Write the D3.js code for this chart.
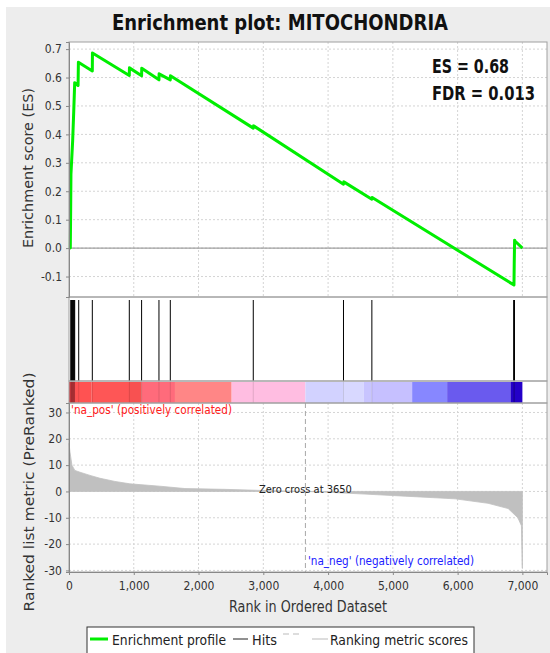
<!DOCTYPE html>
<html>
<head>
<meta charset="utf-8">
<script src="https://cdn.jsdelivr.net/npm/d3@7"></script>
<style>
  body { margin: 0; background: #fff; }
  text { font-family: "DejaVu Sans Condensed", "DejaVu Sans", sans-serif; }
</style>
</head>
<body>
<svg id="svg1" width="550" height="653"></svg>
<script>
// enrichment score curve, vertices
var esRank = [0, 20, 26, 30, 57, 73, 88, 140, 145, 360, 362, 931, 933, 1121, 1123, 1389, 1391, 1564, 1566, 2845, 2850, 4238, 4243, 4676, 4681, 6870, 6874, 6880, 6885, 7000];
var esValue = [0, 0, 0.14, 0.26, 0.38, 0.48, 0.582, 0.572, 0.654, 0.623, 0.686, 0.607, 0.634, 0.606, 0.633, 0.592, 0.613, 0.592, 0.606, 0.422, 0.43, 0.225, 0.233, 0.172, 0.178, -0.13, -0.055, 0.028, 0.025, 0.0];

// gene set members (hits)
var hitRanks = [28, 35, 42, 50, 57, 65, 73, 80, 88, 150, 360, 931, 1121, 1389, 1564, 2845, 4238, 4676, 6866, 6872, 6878];

// ranked list metric
var metricRank = [0, 15, 45, 90, 170, 325, 480, 710, 940, 1400, 1790, 2400, 2950, 3650, 4000, 4570, 5190, 5960, 6470, 6780, 6930, 6985, 6998, 7000];
var metricValue = [18.3, 15, 10, 8, 7.3, 6.1, 5, 3.8, 2.9, 2.0, 1.1, 0.8, 0.4, 0, -0.3, -1, -1.8, -2.8, -4.5, -6.5, -10, -13, -29, -29];

// colour bar blocks
var barStart = [0, 93, 350, 926, 1122, 1636, 2511, 3650, 4233, 4552, 4671, 5298, 5838, 6816];
var barEnd = [93, 350, 926, 1122, 1636, 2511, 3650, 4233, 4552, 4671, 5298, 5838, 6816, 7000];
var barColor = ['#d63c42', '#ff5252', '#fe5656', '#f85151', '#ff6b7b', '#ff8686', '#ffbde1', '#d2d2ff', '#d8d8ff', '#c8c4ff', '#c6c0ff', '#8787ff', '#6a5aee', '#2400c8'];

var esTicks = [-0.1, 0, 0.1, 0.2, 0.3, 0.4, 0.5, 0.6, 0.7];
var metricTicks = [-30, -20, -10, 0, 10, 20, 30];
var rankTicks = [0, 1000, 2000, 3000, 4000, 5000, 6000, 7000];

var zeroCross = 3650;

var left = 69, right = 547;
var top1 = 42, bot1 = 297;   // ES panel
var bot2 = 381;              // hits panel
var bot3 = 403;              // colour bar
var bot4 = 572;              // metric panel

var svg = d3.select('svg');

// background
svg.append('rect').attr('x', 6).attr('y', 7).attr('width', 544).attr('height', 646).attr('fill', '#ededed');

var x = d3.scaleLinear().domain([0, 7380]).range([left, right]);
var yES = d3.scaleLinear().domain([-0.172, 0.725]).range([bot1, top1]);
var yM = d3.scaleLinear().domain([-30.6, 33.6]).range([bot4, bot3]);

// panel backgrounds
[[top1, bot1], [bot1, bot2], [bot2, bot3], [bot3, bot4]].forEach(function (p) {
    svg.append('rect')
        .attr('x', left).attr('y', p[0])
        .attr('width', right - left).attr('height', p[1] - p[0])
        .attr('fill', 'white');
});

// grid lines
function grid(y0, y1, yScale, ticks) {
    var g = svg.append('g').attr('stroke', '#d4d4d4').attr('stroke-dasharray', '2,2').attr('stroke-width', 1);
    g.selectAll('.vx').data(rankTicks.slice(1)).enter().append('line')
        .attr('x1', function (d) { return x(d); }).attr('x2', function (d) { return x(d); })
        .attr('y1', y0).attr('y2', y1);
    g.selectAll('.hy').data(ticks).enter().append('line')
        .attr('x1', left).attr('x2', right)
        .attr('y1', function (d) { return yScale(d); }).attr('y2', function (d) { return yScale(d); });
}
grid(top1, bot1, yES, esTicks);
grid(bot3, bot4, yM, metricTicks);

// zero line in ES panel
svg.append('line')
    .attr('x1', left).attr('x2', right)
    .attr('y1', yES(0)).attr('y2', yES(0))
    .attr('stroke', '#8a8a8a').attr('stroke-width', 1);

// ES curve
var esData = esRank.map(function (r, i) { return [r, esValue[i]]; });
svg.append('path')
    .datum(esData)
    .attr('d', d3.line().x(function (d) { return x(d[0]); }).y(function (d) { return yES(d[1]); }))
    .attr('fill', 'none')
    .attr('stroke', '#00ee00')
    .attr('stroke-width', 3)
    .attr('stroke-linejoin', 'round');

// hits
svg.append('g').selectAll('line').data(hitRanks).enter().append('line')
    .attr('x1', function (d) { return x(d); }).attr('x2', function (d) { return x(d); })
    .attr('y1', bot1 + 3).attr('y2', bot2)
    .attr('stroke', 'black').attr('stroke-width', 1);

// colour bar
svg.append('g').selectAll('rect').data(barStart).enter().append('rect')
    .attr('x', function (d) { return x(d); })
    .attr('width', function (d, i) { return x(barEnd[i]) - x(d); })
    .attr('y', bot2 + 1).attr('height', bot3 - bot2 - 1)
    .attr('fill', function (d, i) { return barColor[i]; });
svg.append('g').selectAll('line').data(hitRanks).enter().append('line')
    .attr('x1', function (d) { return x(d); }).attr('x2', function (d) { return x(d); })
    .attr('y1', bot2).attr('y2', bot3)
    .attr('stroke', 'rgba(0,0,0,0.12)').attr('stroke-width', 1);

// ranked list metric area
var mData = metricRank.map(function (r, i) { return [r, metricValue[i]]; });
svg.append('path')
    .datum(mData)
    .attr('d', d3.area()
        .x(function (d) { return x(d[0]); })
        .y0(yM(0))
        .y1(function (d) { return yM(d[1]); }))
    .attr('fill', '#c0c0c0')
    .attr('stroke', '#c0c0c0')
    .attr('stroke-width', 0.8);

// zero cross marker
svg.append('line')
    .attr('x1', x(zeroCross)).attr('x2', x(zeroCross))
    .attr('y1', bot3).attr('y2', bot4)
    .attr('stroke', '#a8a8a8').attr('stroke-dasharray', '5,3');
svg.append('text')
    .attr('x', x(zeroCross)).attr('y', 493)
    .attr('text-anchor', 'middle')
    .attr('font-size', 11).attr('fill', '#222')
    .text('Zero cross at ' + zeroCross);

svg.append('text')
    .attr('x', 71).attr('y', 414)
    .attr('font-size', 11.5).attr('fill', '#ff2020')
    .attr('textLength', 161).attr('lengthAdjust', 'spacingAndGlyphs')
    .text("'na_pos' (positively correlated)");
svg.append('text')
    .attr('x', 308).attr('y', 565)
    .attr('font-size', 11.5).attr('fill', '#2020ff')
    .attr('textLength', 166).attr('lengthAdjust', 'spacingAndGlyphs')
    .text("'na_neg' (negatively correlated)");

// panel borders
[[top1, bot1], [bot1, bot2], [bot2, bot3], [bot3, bot4]].forEach(function (p) {
    svg.append('rect')
        .attr('x', left).attr('y', p[0])
        .attr('width', right - left).attr('height', p[1] - p[0])
        .attr('fill', 'none').attr('stroke', '#a0a0a0').attr('stroke-width', 1);
});

// axes
function styleAxis(g) {
    g.select('.domain').attr('stroke', '#888');
    g.selectAll('.tick line').attr('stroke', '#888');
    g.selectAll('.tick text').attr('fill', '#333').attr('font-size', 12)
        .attr('font-family', '"DejaVu Sans Condensed", "DejaVu Sans", sans-serif');
}
var fmt1 = function (d) { return d.toFixed(1); };
svg.append('g').attr('transform', 'translate(' + left + ',0)')
    .call(d3.axisLeft(yES).tickValues(esTicks).tickFormat(fmt1).tickSize(3).tickPadding(4))
    .call(styleAxis);
svg.append('g').attr('transform', 'translate(' + left + ',0)')
    .call(d3.axisLeft(yM).tickValues(metricTicks).tickFormat(function (d) { return String(d); }).tickSize(3).tickPadding(4))
    .call(styleAxis);
svg.append('g').attr('transform', 'translate(0,' + bot4 + ')')
    .call(d3.axisBottom(x).tickValues(rankTicks).tickFormat(d3.format(',')).tickSize(3).tickPadding(6))
    .call(styleAxis);

// axis titles
svg.append('text')
    .attr('transform', 'translate(33,168) rotate(-90)')
    .attr('text-anchor', 'middle').attr('font-size', 14).attr('fill', '#333')
    .attr('textLength', 160).attr('lengthAdjust', 'spacingAndGlyphs')
    .text('Enrichment score (ES)');
svg.append('text')
    .attr('transform', 'translate(34,492) rotate(-90)')
    .attr('text-anchor', 'middle').attr('font-size', 14).attr('fill', '#333')
    .attr('textLength', 239).attr('lengthAdjust', 'spacingAndGlyphs')
    .text('Ranked list metric (PreRanked)');
svg.append('text')
    .attr('x', 308).attr('y', 612)
    .attr('text-anchor', 'middle').attr('font-size', 15).attr('fill', '#333')
    .attr('textLength', 158).attr('lengthAdjust', 'spacingAndGlyphs')
    .text('Rank in Ordered Dataset');

// title and stats
svg.append('text')
    .attr('x', 280).attr('y', 30)
    .attr('text-anchor', 'middle')
    .attr('font-family', 'Lato, "Open Sans", sans-serif').attr('font-weight', 'bold')
    .attr('font-size', 21).attr('fill', '#111')
    .attr('textLength', 336).attr('lengthAdjust', 'spacingAndGlyphs')
    .text('Enrichment plot: MITOCHONDRIA');
svg.append('text')
    .attr('x', 432).attr('y', 73)
    .attr('font-family', 'Lato, "Open Sans", sans-serif').attr('font-weight', 'bold')
    .attr('font-size', 20).attr('fill', '#111')
    .attr('textLength', 77).attr('lengthAdjust', 'spacingAndGlyphs')
    .text('ES = 0.68');
svg.append('text')
    .attr('x', 432).attr('y', 100)
    .attr('font-family', 'Lato, "Open Sans", sans-serif').attr('font-weight', 'bold')
    .attr('font-size', 20).attr('fill', '#111')
    .attr('textLength', 103).attr('lengthAdjust', 'spacingAndGlyphs')
    .text('FDR = 0.013');

// legend
var lg = svg.append('g');
lg.append('rect').attr('x', 87).attr('y', 627).attr('width', 387).attr('height', 30)
    .attr('fill', 'white').attr('stroke', '#333').attr('stroke-width', 1);
lg.append('line').attr('x1', 90).attr('x2', 108).attr('y1', 639).attr('y2', 639)
    .attr('stroke', '#00ee00').attr('stroke-width', 3);
lg.append('text').attr('x', 112).attr('y', 645).attr('font-size', 14).attr('fill', '#222')
    .attr('textLength', 114).attr('lengthAdjust', 'spacingAndGlyphs').text('Enrichment profile');
lg.append('line').attr('x1', 233).attr('x2', 248).attr('y1', 639).attr('y2', 639)
    .attr('stroke', '#222').attr('stroke-width', 1);
lg.append('text').attr('x', 252).attr('y', 645).attr('font-size', 14).attr('fill', '#222')
    .attr('textLength', 25).attr('lengthAdjust', 'spacingAndGlyphs').text('Hits');
lg.append('line').attr('x1', 283).attr('x2', 300).attr('y1', 634).attr('y2', 634)
    .attr('stroke', '#bbb').attr('stroke-width', 1).attr('stroke-dasharray', '6,4');
lg.append('line').attr('x1', 312).attr('x2', 328).attr('y1', 639).attr('y2', 639)
    .attr('stroke', '#bbb').attr('stroke-width', 1);
lg.append('text').attr('x', 330).attr('y', 645).attr('font-size', 14).attr('fill', '#222')
    .attr('textLength', 138).attr('lengthAdjust', 'spacingAndGlyphs').text('Ranking metric scores');
</script>
</body>
</html>
